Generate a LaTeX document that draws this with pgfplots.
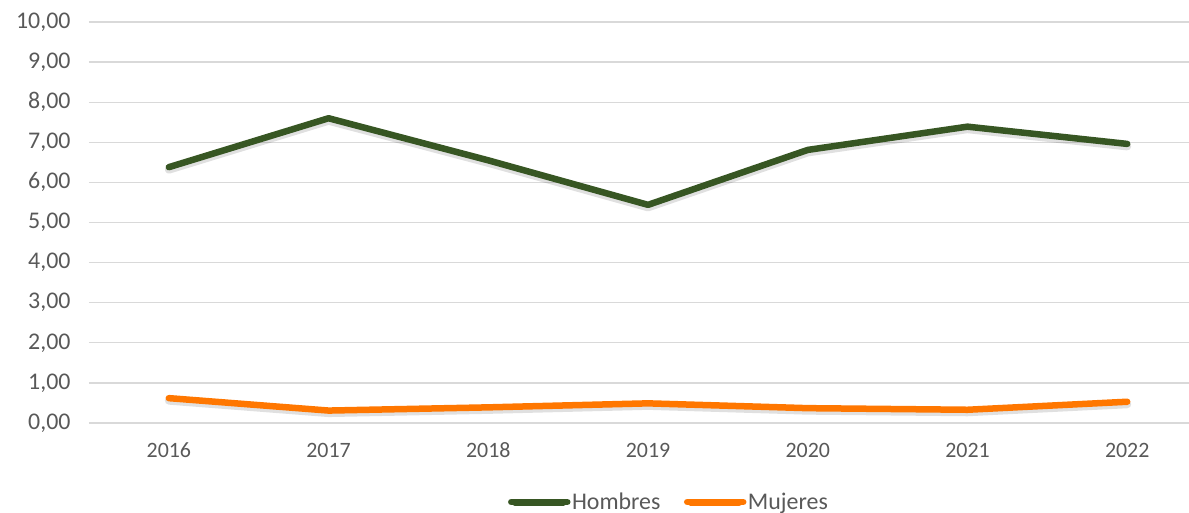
\documentclass[border=0pt]{standalone}
\usepackage{fontspec}
\setmainfont{Carlito}
\usepackage{pgfplots}
\pgfplotsset{compat=1.18}
\definecolor{hgreen}{HTML}{375623}
\definecolor{morange}{HTML}{FF7700}
\definecolor{txtgray}{HTML}{595959}
\definecolor{gridgray}{HTML}{D9D9D9}
\begin{document}
\begin{tikzpicture}
\useasboundingbox (-89bp,-90bp) rectangle (1100bp,423bp);
\begin{axis}[
  scale only axis,
  width=1100bp, height=401bp,
  xmin=-0.5, xmax=6.387,
  ymin=0, ymax=10,
  ytick={0,1,...,10},
  xtick={0,...,6},
  xticklabels={2016,2017,2018,2019,2020,2021,2022},
  axis x line*=bottom, axis y line*=left,
  x axis line style={draw=gridgray, line width=1.2bp},
  y axis line style={draw=none},
  ytick style={draw=none},
  xtick style={draw=none},
  extra x ticks={-0.5,0.5,1.5,2.5,3.5,4.5,5.5},
  extra x tick labels={},
  extra x tick style={tick align=outside, major tick length=6bp, grid=none, tick style={draw=gridgray, line width=1.2bp}},
  ymajorgrids, grid style={draw=gridgray, line width=1.2bp},
  /pgf/number format/.cd, fixed, fixed zerofill, precision=2, use comma, assume math mode=true,
  /pgfplots/.cd,
  yticklabel style={font=\fontsize{24}{28}\selectfont, color=txtgray, anchor=east, xshift=-15bp},
  xticklabel style={font=\fontsize{22}{26}\selectfont, color=txtgray, anchor=center, yshift=-27bp},
  legend columns=2,
  legend style={at={(0.527,-0.197)}, anchor=center, draw=none, font=\fontsize{24}{28}\selectfont, text=txtgray,
    nodes={inner xsep=1.5bp},
    /tikz/every even column/.append style={column sep=22bp}, inner xsep=0pt},
  legend image code/.code={\path (0bp,0bp) -- (56bp,0bp);
    \draw[#1, line width=7bp, line cap=round] (3.5bp,0bp) -- (52bp,0bp);},
  every axis plot/.append style={line width=6.5bp, line cap=round, line join=round},
  shadow/.style={draw=black, opacity=0.12, line width=8bp, transform canvas={yshift=-2.5bp}, forget plot},
]
\addplot[shadow, mark=none] coordinates {(0,6.38) (1,7.60) (2,6.55) (3,5.44) (4,6.81) (5,7.39) (6,6.96)};
\addplot[shadow, mark=none] coordinates {(0,0.62) (1,0.31) (2,0.39) (3,0.49) (4,0.37) (5,0.33) (6,0.53)};
\addplot[hgreen, mark=none] coordinates {(0,6.38) (1,7.60) (2,6.55) (3,5.44) (4,6.81) (5,7.39) (6,6.96)};
\addlegendentry{Hombres}
\addplot[morange, mark=none] coordinates {(0,0.62) (1,0.31) (2,0.39) (3,0.49) (4,0.37) (5,0.33) (6,0.53)};
\addlegendentry{Mujeres}
\end{axis}
\end{tikzpicture}
\end{document}
